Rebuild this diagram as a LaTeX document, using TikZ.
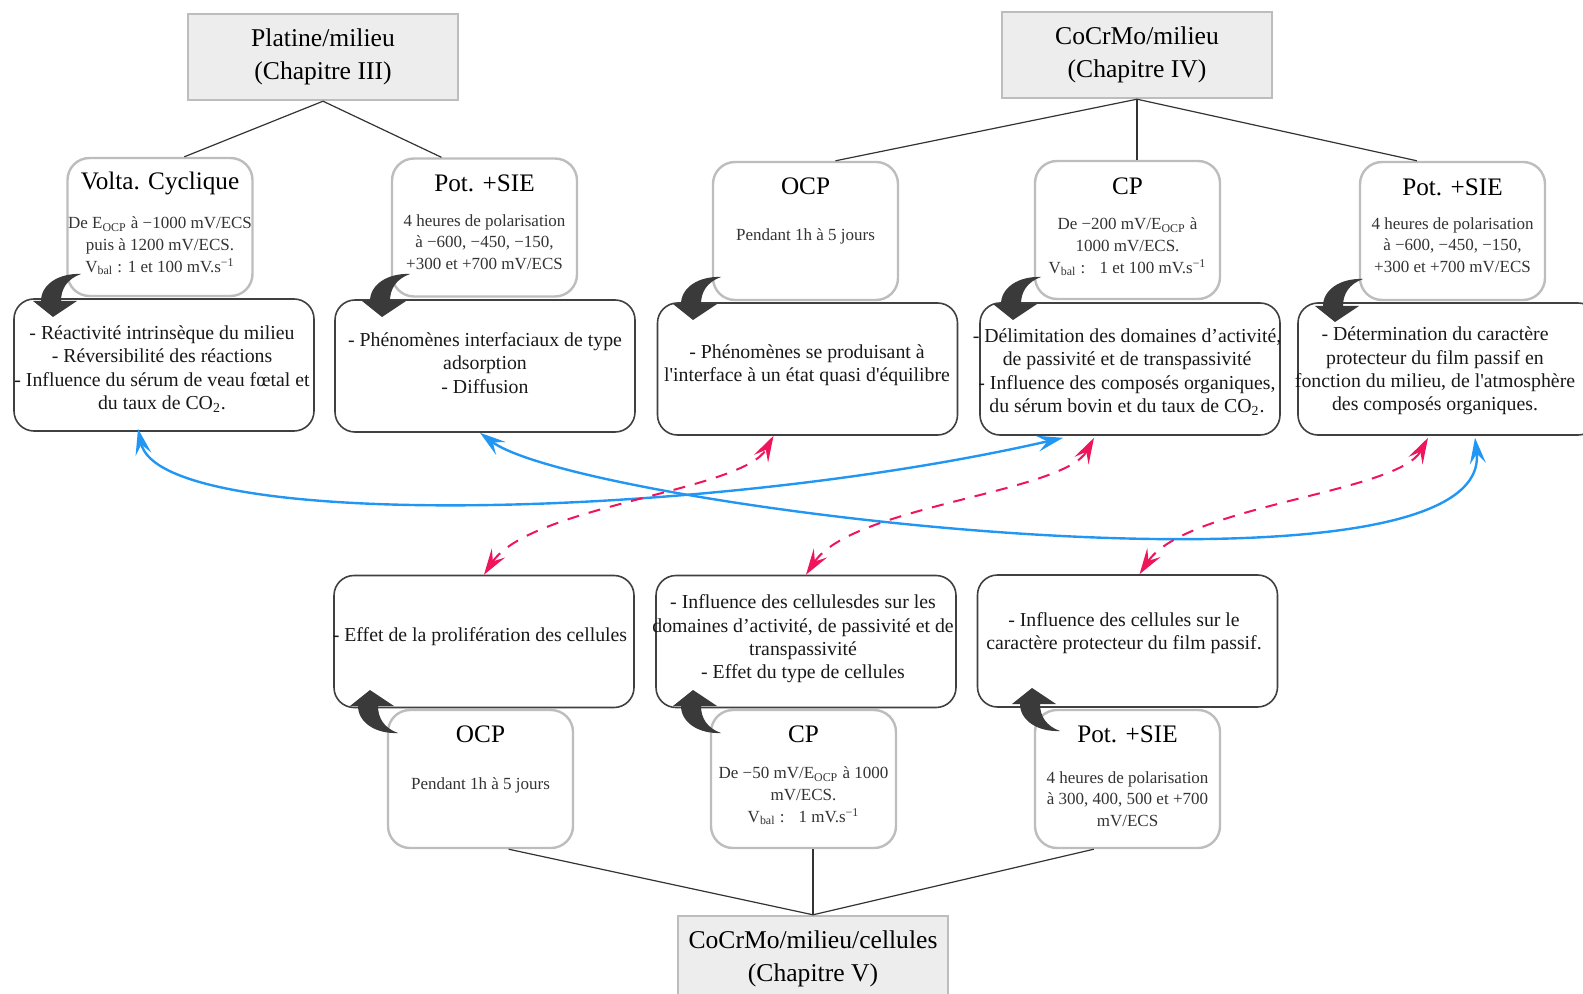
\documentclass[tikz,border=0pt]{standalone}
\usepackage{fontspec}
\setmainfont{Liberation Serif}
\usetikzlibrary{arrows.meta,calc}
\definecolor{bblue}{HTML}{2196F3}
\definecolor{ppink}{HTML}{F0145A}
\definecolor{darkarr}{HTML}{3A3A3A}
\definecolor{mgray}{HTML}{BDBDBD}
\definecolor{hfill}{HTML}{EDEDED}
\definecolor{rborder}{HTML}{404040}
\begin{document}
\begin{tikzpicture}[x=0.5pt,y=-0.5pt,
 hdr/.style={draw=mgray,line width=1.2pt,fill=hfill,minimum width=135pt,minimum height=43pt,inner sep=0pt,font=\fontsize{12.8}{16.7}\selectfont,align=center},
 mbox/.style={draw=mgray,line width=1.2pt,fill=white,rounded corners=11pt,minimum width=92.5pt,minimum height=69pt,inner sep=0pt},
 mtitle/.style={font=\fontsize{12.6}{15}\selectfont,inner sep=0pt},
 mbody/.style={font=\fontsize{8.5}{10.8}\selectfont,align=center,text=black!80,inner sep=0pt},
 rbox/.style={draw=rborder,line width=0.8pt,fill=white,rounded corners=10pt,minimum width=150pt,minimum height=66pt,inner sep=0pt},
 rtext/.style={font=\fontsize{9.9}{11.7}\selectfont,align=center,text=black!90,inner sep=0pt},
 tree/.style={draw=black!80,line width=0.6pt},
 blink/.style={draw=bblue,line width=1.2pt,{Stealth[length=13pt,width=8pt,inset=5pt]}-{Stealth[length=13pt,width=8pt,inset=5pt]}},
 plink/.style={draw=ppink,line width=1pt,dash pattern=on 6pt off 5pt,{Stealth[length=13pt,width=8pt,inset=5pt]}-{Stealth[length=13pt,width=8pt,inset=5pt]}},
 curl/.pic={\fill[darkarr] (0,0) -- (-20,-16) -- (-12,-16) .. controls (-12,-32) and (5,-44) .. (28,-43) .. controls (14,-38) and (8,-28) .. (8,-16) -- (24,-16) -- cycle;}
]
\useasboundingbox (0,0) rectangle (1583,994);
\clip (0,0) rectangle (1583,994);

% headers
\node[hdr] (h1) at (323,57) {Platine/milieu\\(Chapitre III)};
\node[hdr] (h2) at (1137,55) {CoCrMo/milieu\\(Chapitre IV)};
\node[hdr] (h3) at (813,959) {CoCrMo/milieu/cellules\\(Chapitre V)};

% method boxes, top row
\node[mbox] (m1) at (160,227) {};
\node[mbox] (m2) at (484.5,227.5) {};
\node[mbox] (m3) at (805.5,231) {};
\node[mbox] (m4) at (1127.5,230) {};
\node[mbox] (m5) at (1452.5,231) {};
% method boxes, bottom row
\node[mbox] (b1) at (480.5,779) {};
\node[mbox] (b2) at (803.5,779) {};
\node[mbox] (b3) at (1127.5,779) {};

% result boxes
\node[rbox] (r1) at (164,365) {};
\node[rbox] (r2) at (485,366) {};
\node[rbox] (r3) at (807.5,369) {};
\node[rbox] (r4) at (1130,369) {};
\node[rbox] (r5) at (1448,369) {};
\node[rbox] (s1) at (484,641.5) {};
\node[rbox] (s2) at (806,641.5) {};
\node[rbox] (s3) at (1127.5,641) {};

% tree connectors
\draw[tree] (h1.south) -- ($(m1.north west)!0.63!(m1.north east)$);
\draw[tree] (h1.south) -- ($(m2.north west)!0.27!(m2.north east)$);
\draw[tree] (h2.south) -- ($(m3.north west)!0.66!(m3.north east)$);
\draw[tree] (h2.south) -- (h2.south |- m4.north);
\draw[tree] (h2.south) -- ($(m5.north west)!0.31!(m5.north east)$);
\draw[tree] (h3.north) -- ($(b1.south west)!0.65!(b1.south east)$);
\draw[tree] (h3.north) -- (h3.north |- b2.south);
\draw[tree] (h3.north) -- ($(b3.south west)!0.32!(b3.south east)$);

% method texts
\node[mtitle] (m1t) at (160,183) {Volta. Cyclique};
\node[mbody] (m1b) at (160,246) {De E\textsubscript{OCP} à −1000 mV/ECS\\puis à 1200 mV/ECS.\\V\textsubscript{bal} : 1 et 100 mV.s\textsuperscript{−1}};
\node[mtitle] (m2t) at (484.5,183) {Pot. +SIE};
\node[mbody] (m2b) at (484.5,242) {4 heures de polarisation\\à −600, −450, −150,\\+300 et +700 mV/ECS};
\node[mtitle] (m3t) at (805.5,186) {OCP};
\node[mbody] (m3b) at (805.5,236) {Pendant 1h à 5 jours};
\node[mtitle] (m4t) at (1127.5,186) {CP};
\node[mbody] (m4b) at (1127.5,247) {De −200 mV/E\textsubscript{OCP} à\\1000 mV/ECS.\\V\textsubscript{bal} :~~ 1 et 100 mV.s\textsuperscript{−1}};
\node[mtitle] (m5t) at (1452.5,187) {Pot. +SIE};
\node[mbody] (m5b) at (1452.5,245) {4 heures de polarisation\\à −600, −450, −150,\\+300 et +700 mV/ECS};
\node[mtitle] (b1t) at (480.5,734) {OCP};
\node[mbody] (b1b) at (480.5,785) {Pendant 1h à 5 jours};
\node[mtitle] (b2t) at (803.5,734) {CP};
\node[mbody] (b2b) at (803.5,796) {De −50 mV/E\textsubscript{OCP} à 1000\\mV/ECS.\\V\textsubscript{bal} :~~ 1 mV.s\textsuperscript{−1}};
\node[mtitle] (b3t) at (1127.5,734) {Pot. +SIE};
\node[mbody] (b3b) at (1127.5,799) {4 heures de polarisation\\à 300, 400, 500 et +700\\mV/ECS};

% result texts
\node[rtext] (r1t) at (162,369) {- Réactivité intrinsèque du milieu\\- Réversibilité des réactions\\- Influence du sérum de veau fœtal et\\du taux de CO\textsubscript{2}.};
\node[rtext] (r2t) at (485,363) {- Phénomènes interfaciaux de type\\adsorption\\- Diffusion};
\node[rtext] (r3t) at (807,365) {- Phénomènes se produisant à\\l\textquotesingle interface à un état quasi d\textquotesingle équilibre};
\node[rtext] (r4t) at (1127,372) {- Délimitation des domaines d’activité,\\de passivité et de transpassivité\\- Influence des composés organiques,\\du sérum bovin et du taux de CO\textsubscript{2}.};
\node[rtext] (r5t) at (1435,371) {- Détermination du caractère\\protecteur du film passif en\\fonction du milieu, de l\textquotesingle atmosphère\\des composés organiques.};
\node[rtext] (s1t) at (480,637) {- Effet de la prolifération des cellules};
\node[rtext] (s2t) at (803,639) {- Influence des cellulesdes sur les\\domaines d’activité, de passivité et de\\transpassivité\\- Effet du type de cellules};
\node[rtext] (s3t) at (1124,633) {- Influence des cellules sur le\\caractère protecteur du film passif.};

% curled arrows
\pic at (53,317) {curl};
\pic at (382,317) {curl};
\pic at (693,320) {curl};
\pic at (1013,320) {curl};
\pic at (1335,322) {curl};
\pic[yscale=-1] at (370,690) {curl};
\pic[yscale=-1] at (693,690) {curl};
\pic[yscale=-1] at (1032,688) {curl};

% link end points
\coordinate (e1a) at ($(r1.south)+(-26,-3)$);
\coordinate (e1b) at ($(r4.south)+(-67,2)$);
\coordinate (e2a) at ($(r2.south)+(-5,0)$);
\coordinate (e2b) at ($(r5.south)+(27,2)$);
\coordinate (p3a) at (s1.north);
\coordinate (p3b) at ($(r3.south)+(-34,0)$);
\coordinate (p4a) at (s2.north);
\coordinate (p4b) at ($(r4.south)+(-36,2)$);
\coordinate (p5a) at ($(s3.north)+(12,0)$);
\coordinate (p5b) at ($(r5.south)+(-20,2)$);

% blue links
\draw[blink] (e1a) .. controls ($(e1a)+(22,103)$) and ($(e1b)+(-363,83)$) .. (e1b);
\draw[blink] (e2a) .. controls ($(e2a)+(100,75)$) and ($(e2b)+(20,180)$) .. (e2b);
% pink links
\draw[plink] (p3a) .. controls ($(p3a)+(46,-69)$) and ($(p3b)+(-30,55)$) .. (p3b);
\draw[plink] (p4a) .. controls ($(p4a)+(46,-69)$) and ($(p4b)+(-30,55)$) .. (p4b);
\draw[plink] (p5a) .. controls ($(p5a)+(46,-69)$) and ($(p5b)+(-30,55)$) .. (p5b);
\end{tikzpicture}
\end{document}
